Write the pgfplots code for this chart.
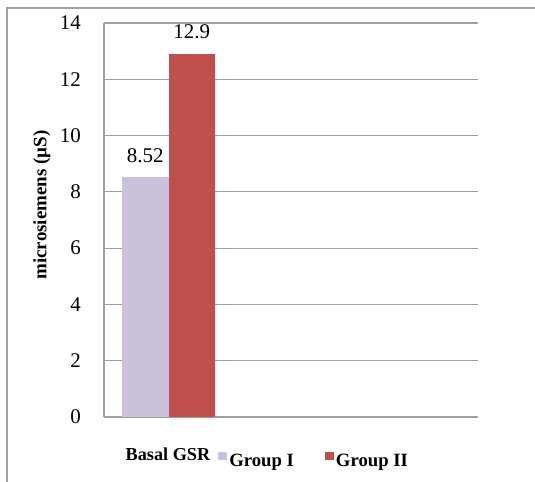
\documentclass[border=0pt]{standalone}
\usepackage{pgfplots}
\pgfplotsset{compat=1.18}
\usepackage{fontspec}
\setmainfont{Liberation Serif}
\definecolor{gI}{HTML}{CCC1DA}
\definecolor{gII}{HTML}{C0504D}
\definecolor{gl}{HTML}{A0A0A0}
\begin{document}
\begin{tikzpicture}[x=1bp,y=1bp]
\useasboundingbox (0bp,0bp) rectangle (535bp,-482bp);
\draw[gl, line width=1.2bp] (7bp,-482bp) -- (7bp,-8bp) -- (536bp,-8bp);
\begin{axis}[
  at={(104bp,-417bp)}, anchor=south west,
  scale only axis, width=374bp, height=394bp,
  xmin=104, xmax=478, ymin=0, ymax=14,
  ytick={0,2,...,14},
  xtick={168}, xticklabels={\bfseries Basal GSR},
  axis x line*=bottom, axis y line*=left,
  axis line style={gl, line width=1.3bp, -},
  ymajorgrids, grid style={gl, line width=1.2bp},
  major tick length=0pt,
  /pgf/number format/assume math mode=true,
  yticklabel style={font=\fontsize{21}{21}\selectfont, anchor=east, inner sep=0pt, xshift=-23bp},
  xticklabel style={font=\fontsize{18.3}{18.3}\selectfont, anchor=base, inner sep=0pt, yshift=-43bp},
  ylabel={\bfseries microsiemens (µS)},
  ylabel style={font=\fontsize{19}{19}\selectfont, at={(axis description cs:-0.166,0.538)}, anchor=center},
  ybar, bar width=46.5,
  nodes near coords,
  every node near coord/.append style={font=\fontsize{21}{21}\selectfont, inner sep=0pt, anchor=base, yshift=15bp},
  legend style={at={(axis description cs:0.305,-0.1117)}, anchor=west, draw=none, fill=none,
    font=\bfseries\fontsize{18.8}{18.8}\selectfont, inner sep=0pt,
    /tikz/every even column/.append style={column sep=29bp}},
  legend columns=2,
  legend image code/.code={\fill[#1] (0bp,1bp) rectangle (9bp,9bp);},
]
\addplot[fill=gI, draw=none, bar shift=0pt] coordinates {(145.25,8.52)};
\addplot[fill=gII, draw=none, bar shift=0pt] coordinates {(191.75,12.9)};
\legend{Group I, Group II}
\end{axis}
\end{tikzpicture}
\end{document}
